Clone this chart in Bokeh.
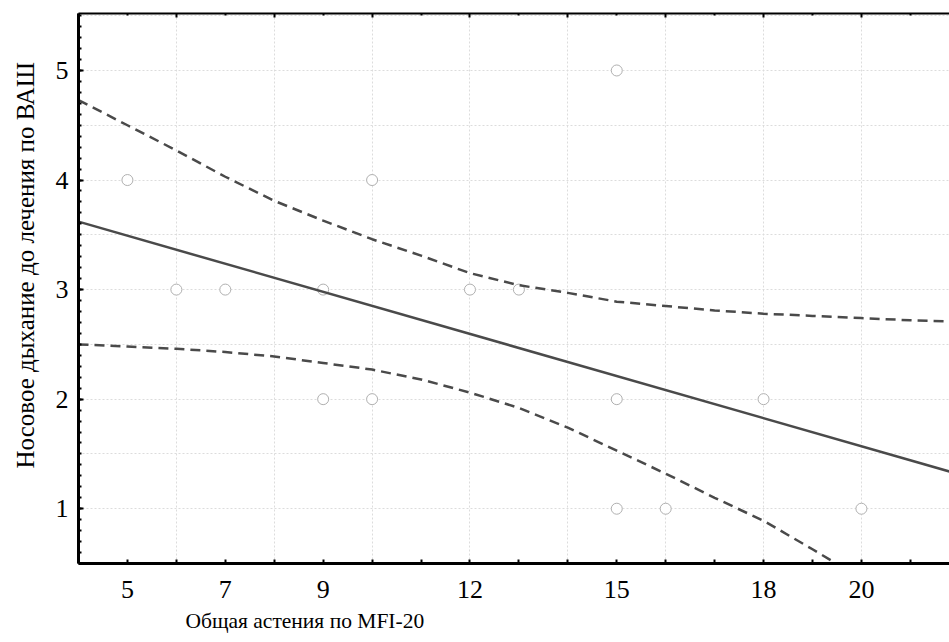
from bokeh.plotting import figure
from bokeh.models import LinearAxis, FixedTicker, Range1d, Title
from bokeh.embed import file_html
from bokeh.resources import INLINE

# Observed points
pts_x = [5, 6, 7, 9, 9, 10, 10, 12, 13, 15, 15, 15, 16, 18, 20]
pts_y = [4, 3, 3, 3, 2, 4, 2, 3, 3, 5, 2, 1, 1, 2, 1]

# Regression line
fit_x = [4, 21.8]
fit_y = [3.62, 1.34]

# Upper confidence band
up_x = [4, 5, 6, 7, 8, 9, 10, 11, 12, 13, 14, 15, 16, 17, 18, 19, 20, 21, 21.8]
up_y = [4.73, 4.50, 4.27, 4.03, 3.81, 3.63, 3.46, 3.31, 3.15, 3.04, 2.97, 2.89,
        2.85, 2.81, 2.78, 2.76, 2.74, 2.72, 2.71]

# Lower confidence band
lo_x = [4, 5, 6, 7, 8, 9, 10, 11, 12, 13, 14, 15, 16, 17, 18, 19, 19.45]
lo_y = [2.50, 2.48, 2.46, 2.43, 2.39, 2.33, 2.27, 2.18, 2.06, 1.92, 1.74, 1.53,
        1.32, 1.10, 0.89, 0.63, 0.51]

x_labels = [5, 7, 9, 12, 15, 18, 20]
x_unlabeled = [4, 6, 8, 10, 11, 13, 14, 16, 17, 19, 21, 22]
x_even = list(range(4, 23, 2))
x_odd = list(range(5, 23, 2))
y_labels = [1, 2, 3, 4, 5]
y_grid = [0.5, 1.0, 1.5, 2.0, 2.5, 3.0, 3.5, 4.0, 4.5, 5.0, 5.5]
y_minor = [round(0.5 + 0.1 * i, 1) for i in range(0, 51)]

x_title = "Общая астения по MFI-20"
y_title = "Носовое дыхание до лечения по ВАШ"

FONT = "Liberation Serif"
LINE = "#4a4a4a"

p = figure(width=949, height=642,
           x_range=Range1d(4, 21.8), y_range=Range1d(0.5, 5.52),
           output_backend="svg", toolbar_location=None,
           min_border_left=77, min_border_right=0, min_border_top=13,
           min_border_bottom=79)
p.outline_line_color = None
p.background_fill_color = "white"

# bottom axis
xa = p.xaxis[0]
xa.ticker = FixedTicker(ticks=x_labels, minor_ticks=x_unlabeled)
xa.major_tick_in = 4
xa.major_tick_out = 0
xa.minor_tick_in = 4
xa.minor_tick_out = 0
xa.axis_line_width = 3
xa.major_tick_line_width = 2
xa.minor_tick_line_width = 2
xa.major_label_text_font = FONT
xa.major_label_text_font_size = "26px"
xa.major_label_text_color = "black"
xa.major_label_standoff = 17

# left axis
ya = p.yaxis[0]
ya.ticker = FixedTicker(ticks=y_labels, minor_ticks=y_minor)
ya.major_tick_in = 5
ya.major_tick_out = 0
ya.minor_tick_in = 3
ya.minor_tick_out = 0
ya.axis_line_width = 3
ya.major_tick_line_width = 2
ya.minor_tick_line_width = 2
ya.major_label_text_font = FONT
ya.major_label_text_font_size = "26px"
ya.major_label_text_color = "black"
ya.major_label_standoff = 10

# y title
yt = Title(text=y_title, align="left", offset=95, vertical_align="top",
           text_font=FONT, text_font_size="25px", text_font_style="normal",
           text_color="black", standoff=23)
p.add_layout(yt, "left")

# top axis (frame line with ticks)
ta = LinearAxis(ticker=FixedTicker(ticks=x_even, minor_ticks=x_odd),
                major_label_text_font_size="1px", major_label_text_alpha=0,
                major_label_standoff=0,
                major_tick_in=4, major_tick_out=0, minor_tick_in=2, minor_tick_out=0,
                axis_line_width=2, major_tick_line_width=2, minor_tick_line_width=2)
p.add_layout(ta, "above")

# grids
p.xgrid.ticker = FixedTicker(ticks=x_even)
p.ygrid.ticker = FixedTicker(ticks=y_grid)
for g in (p.xgrid[0], p.ygrid[0]):
    g.grid_line_color = "#dcdcdc"
    g.grid_line_dash = "2 2"
    g.grid_line_width = 1

# x title
t = Title(text=x_title, align="left", offset=107, text_font=FONT,
          text_font_size="21.5px", text_font_style="normal", text_color="black",
          standoff=13)
p.add_layout(t, "below")

p.scatter(pts_x, pts_y, size=11, marker="circle", fill_color="white",
          line_color="#b0b0b0", line_width=1)
p.line(up_x, up_y, line_color=LINE, line_width=2.5, line_dash="10 6")
p.line(lo_x, lo_y, line_color=LINE, line_width=2.5, line_dash="10 6")
p.line(fit_x, fit_y, line_color=LINE, line_width=2.5)

open("out.html", "w").write(file_html(p, INLINE))
